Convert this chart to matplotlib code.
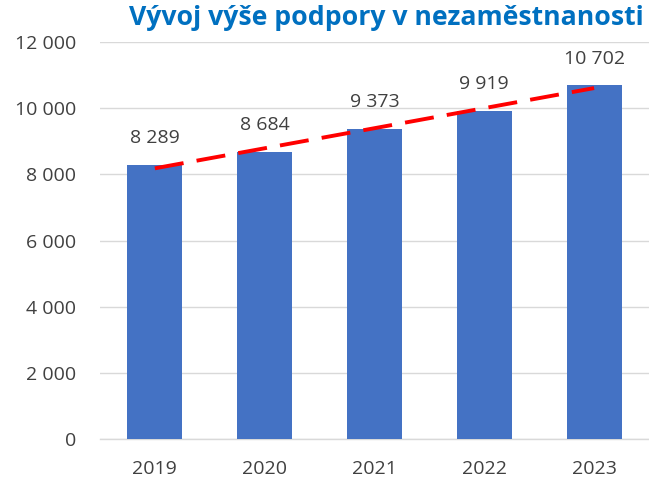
import matplotlib
matplotlib.use('Agg')
import matplotlib.pyplot as plt
import numpy as np

plt.rcParams['font.family'] = ['Open Sans', 'DejaVu Sans']

years = ['2019', '2020', '2021', '2022', '2023']
values = [8289, 8684, 9373, 9919, 10702]
yticks = [0, 2000, 4000, 6000, 8000, 10000, 12000]

BAR = '#4472C4'
TEXT = '#404040'

fig = plt.figure(figsize=(6.49, 4.82), dpi=100)
ax = fig.add_axes([0.154, 0.089, 0.846, 0.824])

x = np.arange(len(years))
ax.bar(x, values, width=0.5, color=BAR, zorder=3)

# linear trend like the spreadsheet trendline
k, q = np.polyfit(x, values, 1)
ax.plot(x, k * x + q, color='#FF0000', lw=2.8, ls=(0, (7.5, 3.4)), zorder=4)

def fmt(v):
    return f'{v:,}'.replace(',', ' ')

for xi, v in zip(x, values):
    ax.annotate(fmt(v), (xi, v), xytext=(0, 19), textcoords='offset points',
                ha='center', va='center', fontsize=14, color=TEXT)

ax.set_xlim(-0.5, len(years) - 0.5)
ax.set_ylim(0, 12000)
ax.set_yticks(yticks)
ax.set_yticklabels([fmt(t) for t in yticks])
ax.set_xticks(x)
ax.set_xticklabels(years)
ax.tick_params(axis='both', length=0, labelsize=14, colors=TEXT)
ax.tick_params(axis='y', pad=17)
ax.tick_params(axis='x', pad=15)
ax.grid(axis='y', color='#D9D9D9', lw=1, zorder=0)
for s in ['top', 'right', 'left']:
    ax.spines[s].set_visible(False)
ax.spines['bottom'].set_color('#D9D9D9')
ax.spines['bottom'].set_linewidth(1)

fig.text(0.992, 0.962, 'Vývoj výše podpory v nezaměstnanosti', ha='right', va='center',
         fontsize=19.2, fontweight='bold', color='#0070C0')

fig.savefig('out.png', dpi=100)
